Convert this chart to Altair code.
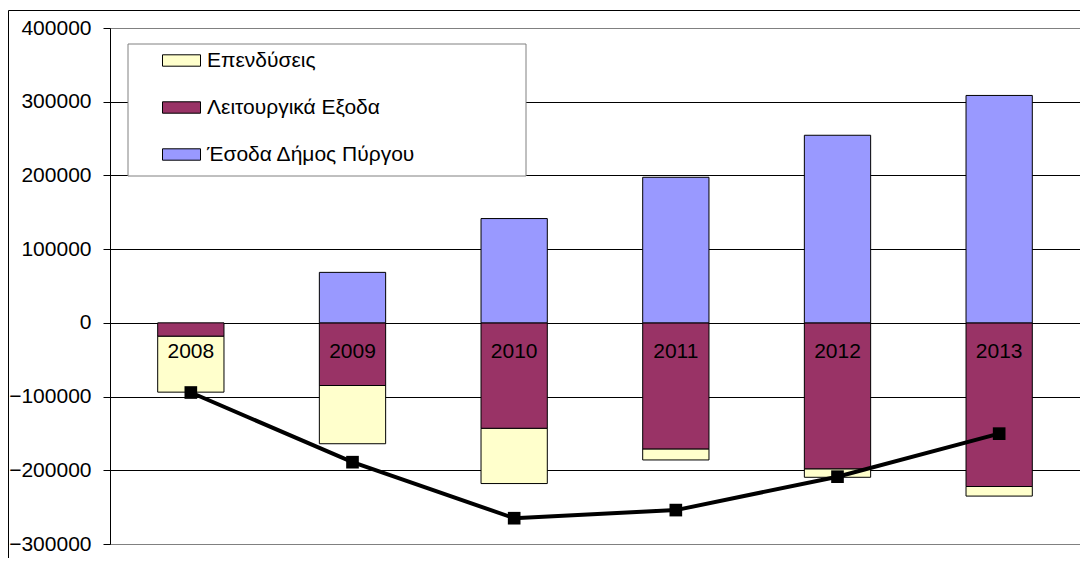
import altair as alt
import pandas as pd

years = ["2008", "2009", "2010", "2011", "2012", "2013"]
ependyseis = [-76000, -79000, -75000, -15000, -11500, -13000]
leitourgika = [-18000, -85000, -143000, -171000, -198000, -222000]
esoda = [0, 68500, 141500, 197500, 254500, 308500]
cumulative = [-94500, -189000, -265000, -254000, -208700, -150300]

series_names = ["Επενδύσεις", "Λειτουργικά Εξοδα", "Έσοδα Δήμος Πύργου"]
series_colors = ["#FFFFCC", "#993366", "#9999FF"]
stack_rank = {"Λειτουργικά Εξοδα": 0, "Επενδύσεις": 1, "Έσοδα Δήμος Πύργου": 2}
y_ticks = [-300000, -200000, -100000, 0, 100000, 200000, 300000, 400000]

rows = []
for i, yr in enumerate(years):
    for name, vals in zip(series_names, [ependyseis, leitourgika, esoda]):
        rows.append({"year": yr, "series": name, "value": vals[i], "rank": stack_rank[name]})
bar_df = pd.DataFrame(rows)
line_df = pd.DataFrame({"year": years, "value": cumulative})
one = pd.DataFrame({"a": [0]})

FONT = "Liberation Sans"
W, H = 970, 516
PAD = {"left": 102, "top": 20, "right": 0, "bottom": 14}

x_enc = alt.X("year:N", sort=years,
              scale=alt.Scale(paddingInner=0.59, paddingOuter=0.295), axis=None)

legend_box = alt.Chart(one).mark_rect(fill="white", stroke="#808080", strokeWidth=1).encode(
    x=alt.value(18), x2=alt.value(416), y=alt.value(16), y2=alt.value(148)
)

bars = alt.Chart(bar_df).transform_filter("datum.value != 0").mark_bar(
    stroke="black", strokeWidth=1
).encode(
    x=x_enc,
    y=alt.Y("value:Q", stack="zero",
            scale=alt.Scale(domain=[-300000, 400000], nice=False, zero=False),
            axis=alt.Axis(values=y_ticks, format="d", title=None, grid=True,
                          gridColor={"condition": {"test": "datum.value === 400000 || datum.value === -300000",
                                                   "value": "#808080"}, "value": "black"},
                          gridWidth=1, domainColor="black", tickColor="black", tickSize=7,
                          labelPadding=12, labelFont=FONT, labelFontSize=21, labelColor="black")),
    color=alt.Color("series:N",
                    scale=alt.Scale(domain=series_names, range=series_colors),
                    legend=alt.Legend(title=None, orient="none", legendX=52, legendY=13,
                                      symbolType="M-1,-0.3H1V0.3H-1Z", symbolSize=1444,
                                      symbolStrokeColor="black", symbolStrokeWidth=1,
                                      symbolOpacity=1, labelLimit=500,
                                      labelFont=FONT, labelFontSize=21, labelColor="black",
                                      labelOffset=6, rowPadding=17, padding=0)),
    order=alt.Order("rank:Q"),
)

line = alt.Chart(line_df).mark_line(
    color="black", strokeWidth=4,
    point=alt.OverlayMarkDef(shape="square", size=160, filled=True, color="black", opacity=1)
).encode(x=x_enc, y="value:Q")

labels = alt.Chart(line_df).mark_text(
    font=FONT, fontSize=21, color="black", baseline="middle", align="center"
).encode(x=x_enc, y=alt.datum(-40000), text="year:N")

frame_top = alt.Chart(one).mark_rule(color="black", strokeWidth=1).encode(
    x=alt.value(-101.5), x2=alt.value(W), y=alt.value(-17.5)
)
frame_left = alt.Chart(one).mark_rule(color="black", strokeWidth=1).encode(
    x=alt.value(-101.5), y=alt.value(-17.5), y2=alt.value(H + PAD["bottom"])
)

chart = alt.layer(legend_box, bars, line, labels, frame_top, frame_left).properties(
    width=W, height=H, padding=PAD, autosize=alt.AutoSizeParams(type="none"),
    background="white"
).configure_view(stroke="#808080", strokeWidth=1)

chart.save("out.html", embed_options={"renderer": "svg", "actions": False})
